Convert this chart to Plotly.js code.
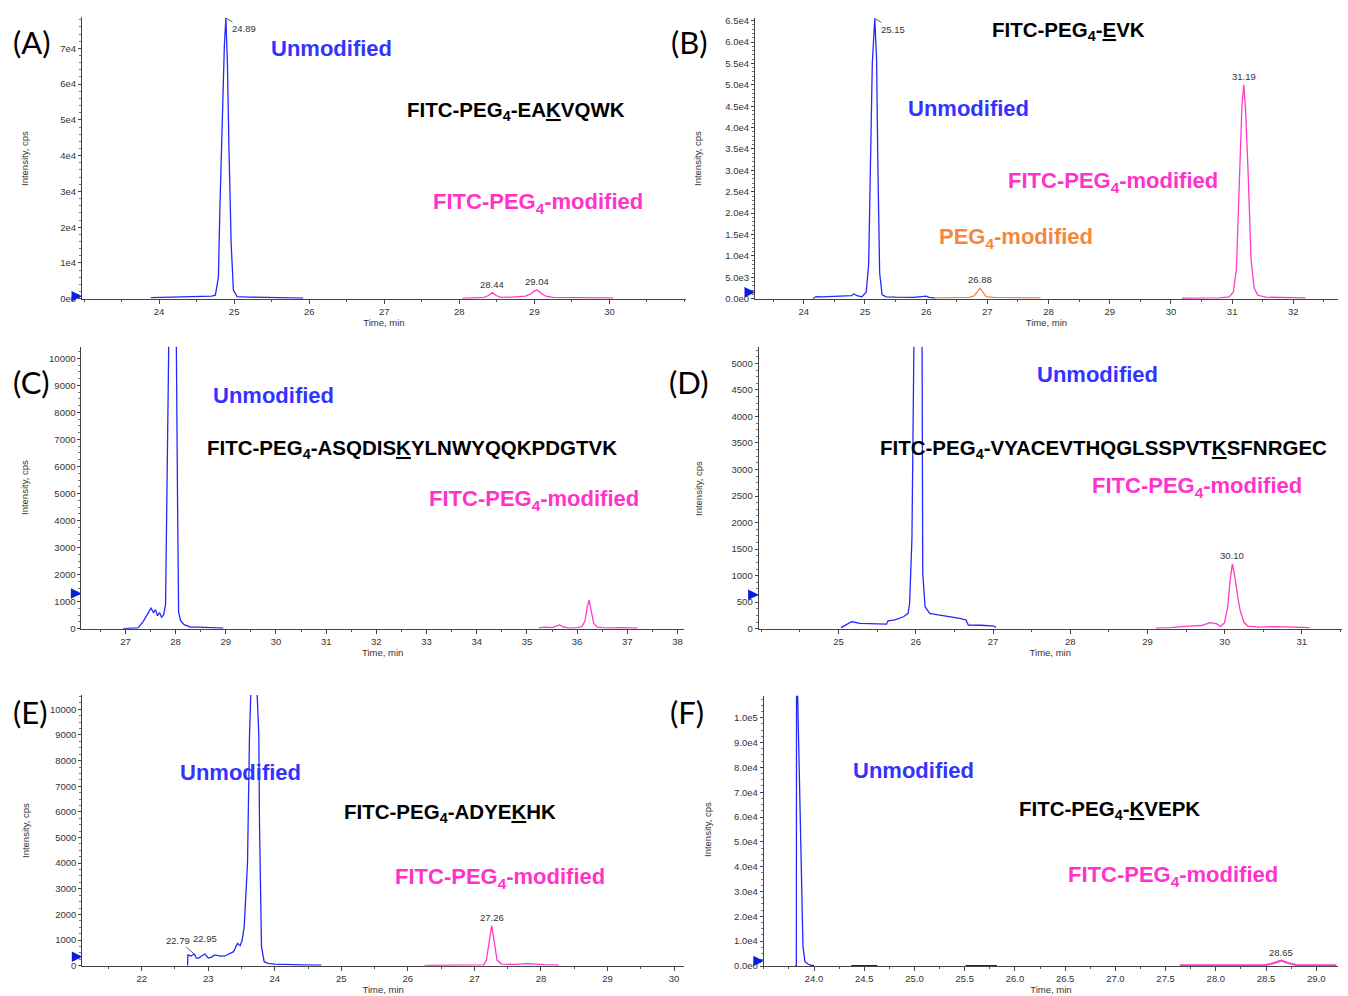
<!DOCTYPE html>
<html>
<head>
<meta charset="utf-8">
<script src="https://cdn.plot.ly/plotly-3.0.1.min.js"></script>
<style>html,body{margin:0;padding:0;background:#fff;}#chart{width:1348px;height:996px;}</style>
</head>
<body>
<div id="chart"></div>
<script>
// ---------------- DATA ----------------
// Panel A  FITC-PEG4-EAKVQWK
const aBlueX = [23.89, 24.0, 24.2, 24.4, 24.6, 24.7, 24.75, 24.79, 24.81, 24.84, 24.87, 24.89, 24.91, 24.93, 24.96, 24.99, 25.04, 25.2, 25.4, 25.6, 25.8, 25.92];
const aBlueY = [300, 350, 380, 400, 500, 700, 1000, 6000, 25000, 52000, 71000, 78500, 66000, 43000, 15500, 2400, 600, 450, 380, 300, 250, 150];
const aMagX  = [28.04, 28.2, 28.33, 28.39, 28.44, 28.49, 28.55, 28.7, 28.8, 28.88, 28.95, 29.0, 29.04, 29.09, 29.15, 29.25, 29.5, 29.8, 29.9, 29.95, 30.05];
const aMagY  = [100, 250, 350, 900, 1700, 900, 350, 450, 650, 700, 1300, 2100, 2450, 1500, 700, 350, 300, 300, 450, 250, 150];

// Panel B  FITC-PEG4-EVK
const bBlueX = [24.15, 24.2, 24.3, 24.4, 24.5, 24.6, 24.7, 24.78, 24.82, 24.87, 24.95, 25.02, 25.06, 25.09, 25.12, 25.16, 25.19, 25.21, 25.24, 25.28, 25.35, 25.5, 25.8, 26.0, 26.05, 26.15];
const bBlueY = [0, 500, 450, 500, 400, 450, 500, 700, 1100, 700, 450, 1500, 8000, 30000, 55000, 65500, 56000, 32000, 6000, 900, 450, 350, 300, 600, 300, 150];
const bOrgX  = [26.15, 26.3, 26.5, 26.7, 26.78, 26.83, 26.88, 26.93, 26.98, 27.1, 27.3, 27.5, 27.7, 27.87];
const bOrgY  = [200, 250, 300, 300, 600, 1600, 2450, 1500, 500, 300, 250, 300, 250, 200];
const bMagX  = [30.18, 30.5, 30.8, 30.95, 31.02, 31.07, 31.12, 31.16, 31.19, 31.22, 31.26, 31.31, 31.36, 31.42, 31.55, 31.8, 32.0, 32.2];
const bMagY  = [100, 150, 200, 400, 1500, 7000, 28000, 45000, 50000, 44000, 30000, 9000, 2500, 800, 350, 250, 300, 200];

// Panel C  FITC-PEG4-ASQDISKYLNWYQQKPDGTVK
const cBlueX = [26.95, 27.1, 27.25, 27.35, 27.45, 27.51, 27.56, 27.6, 27.64, 27.68, 27.72, 27.76, 27.8, 27.82, 27.84, 27.86, 27.88, 27.95, 28.0, 28.02, 28.04, 28.06, 28.1, 28.17, 28.3, 28.45, 28.6, 28.8, 28.95];
const cBlueY = [0, 10, 30, 250, 600, 760, 600, 700, 480, 600, 430, 500, 900, 3600, 6500, 10000, 14000, 20000, 14000, 8000, 4500, 600, 300, 150, 60, 60, 50, 40, 20];
const cMagX  = [35.24, 35.35, 35.5, 35.6, 35.65, 35.72, 35.85, 36.0, 36.1, 36.16, 36.2, 36.24, 36.28, 36.33, 36.4, 36.5, 36.7, 36.9, 37.2];
const cMagY  = [30, 60, 40, 110, 140, 70, 20, 40, 80, 300, 800, 1060, 700, 200, 60, 40, 30, 40, 20];

// Panel D  FITC-PEG4-VYACEVTHQGLSSPVTKSFNRGEC
const dBlueX = [25.03, 25.1, 25.17, 25.28, 25.4, 25.5, 25.62, 25.64, 25.73, 25.84, 25.9, 25.92, 25.95, 25.98, 26.03, 26.08, 26.09, 26.12, 26.18, 26.29, 26.4, 26.46, 26.57, 26.65, 26.68, 26.85, 27.01, 27.04];
const dBlueY = [20, 80, 130, 100, 95, 90, 85, 150, 165, 225, 290, 480, 1700, 6000, 9000, 6000, 1040, 415, 290, 260, 240, 225, 195, 165, 70, 65, 50, 25];
const dMagX  = [29.11, 29.3, 29.53, 29.7, 29.81, 29.9, 29.95, 30.0, 30.04, 30.07, 30.1, 30.13, 30.17, 30.2, 30.25, 30.3, 30.45, 30.65, 30.9, 31.1];
const dMagY  = [10, 20, 50, 60, 115, 90, 40, 120, 420, 900, 1220, 1000, 600, 350, 120, 50, 30, 40, 30, 20];

// Panel E  FITC-PEG4-ADYEKHK
const eBlueX = [22.69, 22.694, 22.74, 22.79, 22.82, 22.85, 22.9, 22.95, 23.0, 23.04, 23.1, 23.18, 23.25, 23.31, 23.38, 23.44, 23.48, 23.51, 23.54, 23.59, 23.62, 23.68, 23.76, 23.77, 23.8, 23.84, 23.9, 24.0, 24.17, 24.4, 24.7];
const eBlueY = [0, 420, 380, 455, 300, 286, 380, 455, 300, 325, 420, 377, 380, 455, 546, 871, 780, 1000, 1520, 4000, 9000, 14000, 9000, 5550, 740, 156, 90, 65, 40, 35, 26];
const eMagX  = [26.25, 26.5, 26.8, 27.0, 27.14, 27.18, 27.22, 27.26, 27.3, 27.34, 27.41, 27.6, 27.8, 27.9, 28.05, 28.27];
const eMagY  = [10, 15, 20, 20, 30, 220, 900, 1560, 900, 220, 65, 50, 80, 60, 40, 26];

// Panel F  FITC-PEG4-KVEPK
const fBlueX = [23.81, 23.824, 23.826, 23.835, 23.84, 23.85, 23.867, 23.88, 23.89, 23.91, 23.94, 23.97, 24.0];
const fBlueY = [0, 0, 130000, 112000, 100000, 84000, 55000, 29000, 7800, 1700, 800, 300, 100];
const fNavy1X = [24.37, 24.45, 24.55, 24.63];
const fNavy1Y = [100, 120, 100, 110];
const fNavy2X = [25.51, 25.6, 25.7, 25.82];
const fNavy2Y = [100, 110, 120, 100];
const fMagX  = [27.64, 27.8, 28.0, 28.2, 28.4, 28.5, 28.58, 28.65, 28.72, 28.8, 29.0, 29.2];
const fMagY  = [300, 300, 300, 300, 300, 400, 1200, 2200, 1200, 400, 300, 300];

// Peak labels [panel, x, y, text]
const peakLabels = [
  ['A', 28.44, 1700, '28.44'], ['A', 29.04, 2450, '29.04'],
  ['B', 26.88, 2450, '26.88'], ['B', 31.19, 50000, '31.19'],
  ['D', 30.10, 1220, '30.10'], ['E', 27.26, 1560, '27.26'],
  ['F', 28.65, 2200, '28.65']
];

// Tick labels
const aXTicks = [24, 25, 26, 27, 28, 29, 30];
const bXTicks = [24, 25, 26, 27, 28, 29, 30, 31, 32];
const cXTicks = [27, 28, 29, 30, 31, 32, 33, 34, 35, 36, 37, 38];
const dXTicks = [25, 26, 27, 28, 29, 30, 31];
const eXTicks = [22, 23, 24, 25, 26, 27, 28, 29, 30];
const fXTicks = [24.0, 24.5, 25.0, 25.5, 26.0, 26.5, 27.0, 27.5, 28.0, 28.5, 29.0];
const fXTickText = ['24.0', '24.5', '25.0', '25.5', '26.0', '26.5', '27.0', '27.5', '28.0', '28.5', '29.0'];
const aTickVals = [0, 10000, 20000, 30000, 40000, 50000, 60000, 70000];
const aTickText = ['0e0', '1e4', '2e4', '3e4', '4e4', '5e4', '6e4', '7e4'];
const bTickVals = [0, 5000, 10000, 15000, 20000, 25000, 30000, 35000, 40000, 45000, 50000, 55000, 60000, 65000];
const bTickText = ['0.0e0', '5.0e3', '1.0e4', '1.5e4', '2.0e4', '2.5e4', '3.0e4', '3.5e4', '4.0e4', '4.5e4', '5.0e4', '5.5e4', '6.0e4', '6.5e4'];
const cTickVals = [0, 1000, 2000, 3000, 4000, 5000, 6000, 7000, 8000, 9000, 10000];
const cTickText = ['0', '1000', '2000', '3000', '4000', '5000', '6000', '7000', '8000', '9000', '10000'];
const dTickVals = [0, 500, 1000, 1500, 2000, 2500, 3000, 3500, 4000, 4500, 5000];
const dTickText = ['0', '500', '1000', '1500', '2000', '2500', '3000', '3500', '4000', '4500', '5000'];
const eTickVals = cTickVals;
const eTickText = cTickText;
const fTickVals = [0, 10000, 20000, 30000, 40000, 50000, 60000, 70000, 80000, 90000, 100000];
const fTickText = ['0.0e0', '1.0e4', '2.0e4', '3.0e4', '4.0e4', '5.0e4', '6.0e4', '7.0e4', '8.0e4', '9.0e4', '1.0e5'];

// Blue arrow indicator levels on y axes
const arrowLevels = {A: 700, B: 1500, C: 1300, D: 640, E: 350, F: 2000};

// ---------------- STYLE / LAYOUT ----------------
const W = 1348, H = 996;
const BLUE = '#2626ff', MAG = '#ff3acb', ORG = '#ff7f3f', NAVY = '#1a1a8c';
const SMALLF = 'Liberation Sans Narrow, Liberation Sans, Arial, sans-serif';
const TICKFONT = {family: SMALLF, size: 9.5, color: '#333'};
const px = v => v / W, py = v => 1 - v / H;

const panels = {
  A: {n: 1, dx: [82, 686], dy: [16.7, 298.7], xr: [22.973, 31.02], yr: [0, 78860], xtv: aXTicks, tv: aTickVals, tt: aTickText, xmin: 0.5, ymin: 2000, yt: [25, 158]},
  B: {n: 2, dx: [755, 1338], dy: [18.3, 298.7], xr: [23.203, 32.73], yr: [0, 65550], xtv: bXTicks, tv: bTickVals, tt: bTickText, xmin: 0.5, ymin: 1000, yt: [698, 158]},
  C: {n: 3, dx: [81.4, 684], dy: [346.7, 628.7], xr: [26.123, 38.13], yr: [0, 10432], xtv: cXTicks, tv: cTickVals, tt: cTickText, xmin: 0.5, ymin: 250, yt: [24, 488]},
  D: {n: 4, dx: [758.6, 1342], dy: [346.7, 628.7], xr: [23.964, 31.52], yr: [0, 5314], xtv: dXTicks, tv: dTickVals, tt: dTickText, xmin: 0.5, ymin: 125, yt: [698, 488]},
  E: {n: 5, dx: [82.3, 684], dy: [695, 965.7], xr: [21.107, 30.15], yr: [0, 10559], xtv: eXTicks, tv: eTickVals, tt: eTickText, xmin: 0.5, ymin: 250, yt: [25, 830]},
  F: {n: 6, dx: [763.8, 1338], dy: [695.7, 966], xr: [23.5, 29.216], yr: [0, 108860], xtv: fXTicks, xtt: fXTickText, tv: fTickVals, tt: fTickText, xmin: 0.25, ymin: 2500, yt: [707, 830]}
};

const layout = {
  width: W, height: H, margin: {l: 0, r: 0, t: 0, b: 0},
  paper_bgcolor: '#fff', plot_bgcolor: '#fff', showlegend: false,
  annotations: [], shapes: []
};

function axName(n, c) { return c + (n === 1 ? '' : n); }

Object.keys(panels).forEach(k => {
  const p = panels[k];
  const xa = axName(p.n, 'xaxis'), ya = axName(p.n, 'yaxis');
  const xid = axName(p.n, 'x'), yid = axName(p.n, 'y');
  p.xid = xid; p.yid = yid;
  layout[xa] = {
    domain: [px(p.dx[0]), px(p.dx[1])], range: p.xr, anchor: yid,
    showgrid: false, zeroline: false, showline: true, linecolor: '#444', linewidth: 1,
    ticks: 'outside', ticklen: 4, tickcolor: '#444', tickfont: TICKFONT,
    tickmode: 'array', tickvals: p.xtv, ticktext: p.xtt || p.xtv.map(String),
    minor: {ticks: 'outside', ticklen: 2, tickcolor: '#555', dtick: p.xmin, tick0: 0, tickmode: 'linear'},
    title: {text: 'Time, min', font: TICKFONT, standoff: 2}
  };
  layout[ya] = {
    domain: [py(p.dy[1]), py(p.dy[0])], range: p.yr, anchor: xid,
    showgrid: false, zeroline: false, showline: true, linecolor: '#444', linewidth: 1,
    ticks: 'outside', ticklen: 3, tickcolor: '#444', tickfont: TICKFONT,
    tickmode: 'array', tickvals: p.tv, ticktext: p.tt,
    minor: {ticks: 'outside', ticklen: 2, tickcolor: '#777', dtick: p.ymin, tick0: 0, tickmode: 'linear'}
  };
  // y axis title as rotated annotation
  layout.annotations.push({xref: 'paper', yref: 'paper', x: px(p.yt[0]), y: py(p.yt[1]),
    text: 'Intensity, cps', textangle: -90, showarrow: false, xanchor: 'center', yanchor: 'middle', font: TICKFONT});
  // blue arrow indicator
  layout.annotations.push({xref: xid, yref: yid, x: p.xr[0], y: arrowLevels[k], text: '',
    showarrow: true, arrowhead: 2, arrowsize: 0.6, arrowwidth: 3.5, arrowcolor: '#0a1ee0',
    ax: -9, ay: 0, standoff: 0});
});

const traces = [];
function line(pk, x, y, color, w) {
  const p = panels[pk];
  traces.push({type: 'scatter', mode: 'lines', x: x, y: y, xaxis: p.xid, yaxis: p.yid,
    line: {color: color, width: w || 1.3, shape: 'linear'}, hoverinfo: 'skip'});
}
line('A', aBlueX, aBlueY, BLUE); line('A', aMagX, aMagY, MAG);
line('B', bBlueX, bBlueY, BLUE); line('B', bOrgX, bOrgY, ORG); line('B', bMagX, bMagY, MAG);
line('C', cBlueX, cBlueY, BLUE); line('C', cMagX, cMagY, MAG);
line('D', dBlueX, dBlueY, BLUE); line('D', dMagX, dMagY, MAG);
line('E', eBlueX, eBlueY, BLUE); line('E', eMagX, eMagY, MAG);
line('F', fBlueX, fBlueY, BLUE); line('F', fNavy1X, fNavy1Y, NAVY); line('F', fNavy2X, fNavy2Y, NAVY);
line('F', fMagX, fMagY, MAG, 2);

// peak labels
const PKFONT = {family: SMALLF, size: 9.5, color: '#333'};
peakLabels.forEach(([k, x, y, t]) => {
  const p = panels[k];
  layout.annotations.push({xref: p.xid, yref: p.yid, x: x, y: y, text: t, showarrow: false,
    yanchor: 'bottom', xanchor: 'center', yshift: 1, font: PKFONT});
});
// labels with leader lines
function leader(k, x, y, t, ax, ay) {
  const p = panels[k];
  layout.annotations.push({xref: p.xid, yref: p.yid, x: x, y: y, text: t, showarrow: true,
    arrowhead: 0, arrowwidth: 0.8, arrowcolor: '#333', ax: ax, ay: ay, font: PKFONT, standoff: 0});
}
leader('A', 24.89, 78500, '24.89', 18, 11);
leader('B', 25.16, 65500, '25.15', 18, 11);
leader('E', 22.79, 455, '22.79', -16, -14);
layout.annotations.push({xref: panels.E.xid, yref: panels.E.yid, x: 22.95, y: 455, text: '22.95',
  showarrow: false, yanchor: 'bottom', xanchor: 'center', yshift: 8, font: PKFONT});

// text labels (paper coords from pixel positions)
const BOLD = 'Liberation Sans, Arial, sans-serif';
function txt(t, x, y, color, size, family) {
  layout.annotations.push({xref: 'paper', yref: 'paper', x: px(x), y: py(y), text: t, showarrow: false,
    xanchor: 'center', yanchor: 'middle', font: {family: family || BOLD, size: size, color: color}});
}
const U = '#3333ff', M = '#ff33cc', O = '#f5883c', K = '#000';
const modTxt = '<b>FITC-PEG<sub>4</sub>-modified</b>';
const unTxt = '<b>Unmodified</b>';
// A
txt(unTxt, 331, 49, U, 22); txt('<b>FITC-PEG<sub>4</sub>-EA<u>K</u>VQWK</b>', 516, 111, K, 20.5); txt(modTxt, 538, 203, M, 22);
// B
txt('<b>FITC-PEG<sub>4</sub>-<u>E</u>VK</b>', 1068, 31, K, 20.5); txt(unTxt, 968, 108, U, 22);
txt(modTxt, 1113, 182, M, 22); txt('<b>PEG<sub>4</sub>-modified</b>', 1016, 238, O, 22);
// C
txt(unTxt, 273, 395, U, 22); txt('<b>FITC-PEG<sub>4</sub>-ASQDIS<u>K</u>YLNWYQQKPDGTVK</b>', 412, 449, K, 20.5); txt(modTxt, 534, 500, M, 22);
// D
txt(unTxt, 1097, 374, U, 22); txt('<b>FITC-PEG<sub>4</sub>-VYACEVTHQGLSSPVT<u>K</u>SFNRGEC</b>', 1103, 449, K, 20.5); txt(modTxt, 1197, 487, M, 22);
// E
txt(unTxt, 240, 772, U, 22); txt('<b>FITC-PEG<sub>4</sub>-ADYE<u>K</u>HK</b>', 450, 813, K, 20.5); txt(modTxt, 500, 878, M, 22);
// F
txt(unTxt, 913, 770, U, 22); txt('<b>FITC-PEG<sub>4</sub>-<u>K</u>VEPK</b>', 1109, 810, K, 20.5); txt(modTxt, 1173, 876, M, 22);

// panel letters
const LF = 'Lato, Noto Sans, sans-serif';
txt('(A)', 32, 42, '#000', 31, LF); txt('(B)', 689, 42, '#000', 31, LF);
txt('(C)', 31, 382, '#000', 31, LF); txt('(D)', 689, 382, '#000', 31, LF);
txt('(E)', 30, 712, '#000', 31, LF); txt('(F)', 687, 712, '#000', 31, LF);

Plotly.newPlot('chart', traces, layout, {staticPlot: true, displayModeBar: false});
</script>
</body>
</html>
